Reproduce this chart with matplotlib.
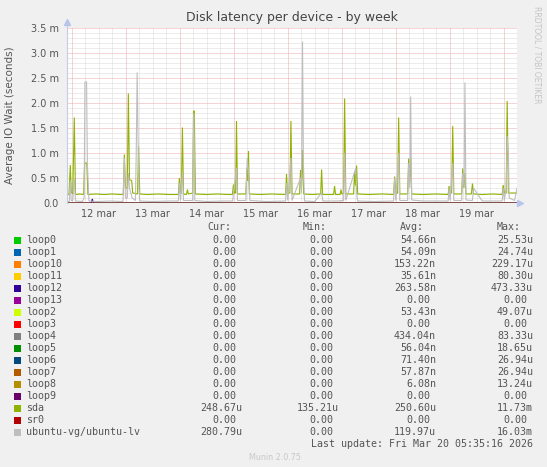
import matplotlib
matplotlib.use('Agg')
import matplotlib.pyplot as plt
from matplotlib.patches import Rectangle

W, H = 547, 467

# ─── DATA (x in days after 12 mar 00:00, values in milliseconds) ──────────────
X_START, X_END = -0.087, 8.245
DAY_LABELS = ['12 mar', '13 mar', '14 mar', '15 mar', '16 mar', '17 mar', '18 mar', '19 mar']
Y_TICKS = [0.0, 0.5, 1.0, 1.5, 2.0, 2.5, 3.0, 3.5]
Y_TICK_LABELS = ['0.0', '0.5 m', '1.0 m', '1.5 m', '2.0 m', '2.5 m', '3.0 m', '3.5 m']

sda_t = [-0.087, -0.05, -0.026, -0.008, 0.02, 0.048, 0.07, 0.15, 0.22, 0.24, 0.28, 0.30,
         0.45, 0.6, 0.75, 0.9, 0.955, 0.975, 0.995, 1.03, 1.049, 1.07, 1.085, 1.11, 1.13,
         1.22, 1.238, 1.26, 1.4, 1.6, 1.8, 1.975, 1.994, 2.015, 2.03, 2.05, 2.07, 2.125,
         2.143, 2.16, 2.24, 2.255, 2.27, 2.29, 2.5, 2.7, 2.9, 2.975, 2.995, 3.015, 3.035,
         3.051, 3.07, 3.225, 3.244, 3.258, 3.273, 3.29, 3.5, 3.7, 3.96, 3.978, 3.995, 4.04,
         4.059, 4.08, 4.22, 4.237, 4.255, 4.274, 4.295, 4.45, 4.61, 4.627, 4.645, 4.85,
         4.867, 4.885, 4.97, 4.986, 5.0, 5.035, 5.053, 5.075, 5.22, 5.238, 5.255, 5.275,
         5.295, 5.5, 5.75, 5.96, 5.98, 6.0, 6.035, 6.054, 6.075, 6.22, 6.239, 6.257, 6.276,
         6.295, 6.5, 6.75, 6.97, 6.988, 7.005, 7.035, 7.055, 7.075, 7.22, 7.24, 7.26, 7.28,
         7.3, 7.4, 7.42, 7.44, 7.6, 7.8, 7.97, 7.989, 8.01, 8.045, 8.063, 8.085, 8.2, 8.245]
sda_v = [0.17, 0.17, 0.76, 0.22, 0.18, 1.71, 0.17, 0.18, 0.17, 0.80, 0.80, 0.17,
         0.18, 0.17, 0.18, 0.17, 0.17, 0.97, 0.30, 0.30, 2.19, 0.46, 0.46, 0.45, 0.20,
         0.18, 1.13, 0.18, 0.17, 0.18, 0.17, 0.17, 0.50, 0.20, 0.20, 1.51, 0.18, 0.17,
         0.27, 0.18, 0.20, 1.84, 1.84, 0.18, 0.17, 0.18, 0.17, 0.17, 0.37, 0.20, 0.20,
         1.64, 0.18, 0.18, 0.70, 0.45, 1.04, 0.18, 0.17, 0.18, 0.17, 0.58, 0.20, 0.20,
         1.64, 0.18, 0.18, 0.66, 0.30, 1.06, 0.18, 0.17, 0.18, 0.67, 0.17, 0.17,
         0.34, 0.17, 0.17, 0.27, 0.18, 0.20, 2.09, 0.18, 0.18, 0.63, 0.35, 0.75,
         0.18, 0.17, 0.18, 0.17, 0.53, 0.20, 0.20, 1.71, 0.18, 0.18, 0.89, 0.40, 0.90,
         0.18, 0.17, 0.18, 0.17, 0.34, 0.20, 0.20, 1.54, 0.18, 0.18, 0.69, 0.30, 0.60,
         0.18, 0.18, 0.39, 0.18, 0.17, 0.18, 0.17, 0.36, 0.20, 0.20, 2.04, 0.20, 0.20, 0.20]

lv_t = [-0.087, -0.045, -0.026, -0.01, 0.02, 0.048, 0.07, 0.2, 0.23, 0.245, 0.275, 0.29,
        0.32, 0.5, 0.7, 0.95, 0.975, 0.995, 1.03, 1.049, 1.07, 1.12, 1.18, 1.195, 1.212,
        1.23, 1.245, 1.26, 1.5, 1.8, 1.975, 1.994, 2.015, 2.05, 2.07, 2.24, 2.26, 2.28,
        2.5, 2.8, 2.98, 3.0, 3.051, 3.07, 3.225, 3.25, 3.275, 3.3, 3.6, 3.96, 3.98,
        4.0, 4.059, 4.08, 4.237, 4.255, 4.274, 4.29, 4.31, 4.5, 4.627, 4.65, 4.9, 5.035,
        5.053, 5.075, 5.26, 5.275, 5.295, 5.6, 5.96, 5.98, 6.0, 6.054, 6.075, 6.22,
        6.24, 6.26, 6.276, 6.295, 6.5, 6.97, 6.988, 7.005, 7.055, 7.075, 7.22, 7.24,
        7.265, 7.281, 7.3, 7.42, 7.44, 7.6, 7.97, 7.99, 8.01, 8.045, 8.063, 8.085, 8.1,
        8.2, 8.245]
lv_v = [0.03, 0.03, 0.45, 0.05, 0.05, 0.50, 0.04, 0.03, 0.10, 2.42, 2.42, 0.80,
        0.04, 0.03, 0.04, 0.03, 0.90, 0.10, 0.10, 0.60, 0.30, 0.10, 0.05, 1.00, 2.61,
        1.20, 0.30, 0.04, 0.03, 0.04, 0.04, 0.40, 0.05, 0.60, 0.05, 0.05, 1.80, 0.05,
        0.03, 0.04, 0.04, 0.25, 0.70, 0.05, 0.05, 0.90, 0.60, 0.05, 0.03, 0.04, 0.40,
        0.05, 0.90, 0.05, 0.50, 0.20, 3.23, 0.80, 0.04, 0.03, 0.20, 0.04, 0.04, 0.05,
        1.00, 0.05, 0.70, 0.20, 0.04, 0.03, 0.04, 0.50, 0.05, 1.00, 0.05, 0.05,
        0.80, 0.30, 2.13, 0.06, 0.04, 0.04, 0.30, 0.05, 0.80, 0.05, 0.05, 0.60,
        0.30, 2.41, 0.06, 0.05, 0.30, 0.04, 0.04, 0.30, 0.05, 0.30, 1.34, 1.00, 0.10,
        0.05, 0.30]

# near-zero loop devices: a few tiny blips
loop12_t = [X_START, 0.36, 0.382, 0.40, X_END]
loop12_v = [0.0, 0.0, 0.08, 0.0, 0.0]
loop11_t = [X_START, 4.85, 4.867, 4.885, X_END]
loop11_v = [0.0, 0.0, 0.02, 0.0, 0.0]
loop10_t = [X_START, 4.95, 4.97, 4.99, X_END]
loop10_v = [0.0, 0.0, 0.02, 0.0, 0.0]
flat_t = [X_START, X_END]
flat_v = [0.0, 0.0]

names = ['loop0', 'loop1', 'loop10', 'loop11', 'loop12', 'loop13', 'loop2', 'loop3',
         'loop4', 'loop5', 'loop6', 'loop7', 'loop8', 'loop9', 'sda', 'sr0',
         'ubuntu-vg/ubuntu-lv']
colors = ['#00CC00', '#0066B3', '#FF8000', '#FFCC00', '#330099', '#990099', '#CCFF00',
          '#FF0000', '#808080', '#008F00', '#00487D', '#B35A00', '#B38F00', '#6B006B',
          '#8FB300', '#B30000', '#BEBEBE']
cur = ['0.00', '0.00', '0.00', '0.00', '0.00', '0.00', '0.00', '0.00', '0.00', '0.00',
       '0.00', '0.00', '0.00', '0.00', '248.67u', '0.00', '280.79u']
mins = ['0.00'] * 14 + ['135.21u', '0.00', '0.00']
avgs = ['54.66n', '54.09n', '153.22n', '35.61n', '263.58n', '0.00', '53.43n', '0.00',
        '434.04n', '56.04n', '71.40n', '57.87n', '6.08n', '0.00', '250.60u', '0.00',
        '119.97u']
maxs = ['25.53u', '24.74u', '229.17u', '80.30u', '473.33u', '0.00', '49.07u', '0.00',
        '83.33u', '18.65u', '26.94u', '26.94u', '13.24u', '0.00', '11.73m', '0.00',
        '16.03m']

series = {'loop10': (loop10_t, loop10_v), 'loop11': (loop11_t, loop11_v),
          'loop12': (loop12_t, loop12_v), 'sda': (sda_t, sda_v),
          'ubuntu-vg/ubuntu-lv': (lv_t, lv_v)}

# ─── FIGURE ───────────────────────────────────────────────────────────────────
def fx(px):
    return px / W

def fy(py):
    return 1 - py / H

fig = plt.figure(figsize=(W / 100, H / 100), dpi=100, facecolor='#F0F0F0')
L, R, T, B = 67, 517, 28, 203
ax = fig.add_axes([fx(L), fy(B), fx(R - L), (B - T) / H])
ax.set_facecolor('white')
ax.set_xlim(X_START, X_END)
ax.set_ylim(0, 3.5)

# grid: minor grey dotted, major red dotted
dots = (0, (1, 1))
for k in range(0, 36):
    if k % 5:
        ax.axhline(k * 0.1, color='#dadada', lw=0.72, ls=dots, zorder=1)
for k in range(0, 34):
    d = k * 0.25
    if k % 4 and X_START < d < X_END:
        ax.axvline(d, color='#dadada', lw=0.72, ls=dots, zorder=1)
for y in Y_TICKS[1:]:
    ax.axhline(y, color='#eaaaaa', lw=0.72, ls=dots, zorder=2)
for d in range(0, 9):
    ax.axvline(d, color='#eaaaaa', lw=0.72, ls=dots, zorder=2)

for name, col in zip(names, colors):
    t, v = series.get(name, (flat_t, flat_v))
    ax.plot(t, v, color=col, lw=0.8, zorder=3, solid_joinstyle='miter')

for s in ax.spines.values():
    s.set_visible(False)
ax.plot([X_START, X_START], [0, 3.58], color='#c5cde6', lw=0.8, clip_on=False, zorder=4)
ax.plot([X_START], [3.62], marker='^', ms=4, color='#b8c4ec', clip_on=False, zorder=4)
ax.plot([X_END + 0.05], [0], marker='>', ms=4, color='#b8c4ec', clip_on=False, zorder=4)

ax.set_yticks(Y_TICKS)
ax.set_yticklabels(Y_TICK_LABELS, fontsize=7, color='#555555')
ax.set_xticks([d + 0.5 for d in range(len(DAY_LABELS))])
ax.set_xticklabels(DAY_LABELS, fontsize=7, color='#555555')
ax.tick_params(length=0, pad=6)
ax.tick_params(axis='x', pad=4)

fig.text(fx(292), fy(18), 'Disk latency per device - by week', ha='center', va='center',
         fontsize=9, color='#444444')
fig.text(fx(10), fy(115), 'Average IO Wait (seconds)', rotation=90, ha='center',
         va='center', fontsize=7.5, color='#555555')
fig.text(fx(537), fy(6), 'RRDTOOL / TOBI OETIKER', rotation=270, ha='center', va='top',
         fontsize=5.5, color='#c4c4c4')

# ─── LEGEND ───────────────────────────────────────────────────────────────────
mono = dict(family='DejaVu Sans Mono', fontsize=7.2, color='#555555', va='center')
CW = 6.0
col_right = [242, 339, 436, 533]
for hx, h in zip([207, 303, 400, 497], ['Cur:', 'Min:', 'Avg:', 'Max:']):
    fig.text(fx(hx), fy(227), h, ha='left', **mono)

for i, name in enumerate(names):
    y = 240 + 12 * i
    fig.patches.append(Rectangle((fx(14), fy(y + 3.5)), 7 / W, 7 / H,
                                 transform=fig.transFigure, facecolor=colors[i],
                                 edgecolor='none'))
    fig.text(fx(26), fy(y), name, ha='left', **mono)
    for cr, val in zip(col_right, [cur[i], mins[i], avgs[i], maxs[i]]):
        xr = cr if val[-1].isalpha() else cr - CW
        fig.text(fx(xr), fy(y), val, ha='right', **mono)

fig.text(fx(533), fy(444), 'Last update: Fri Mar 20 05:35:16 2026', ha='right', **mono)
fig.text(fx(275), fy(457), 'Munin 2.0.75', ha='center', va='center', fontsize=5.8,
         color='#c8c8c8')

fig.savefig('out.png', dpi=100, facecolor=fig.get_facecolor())
